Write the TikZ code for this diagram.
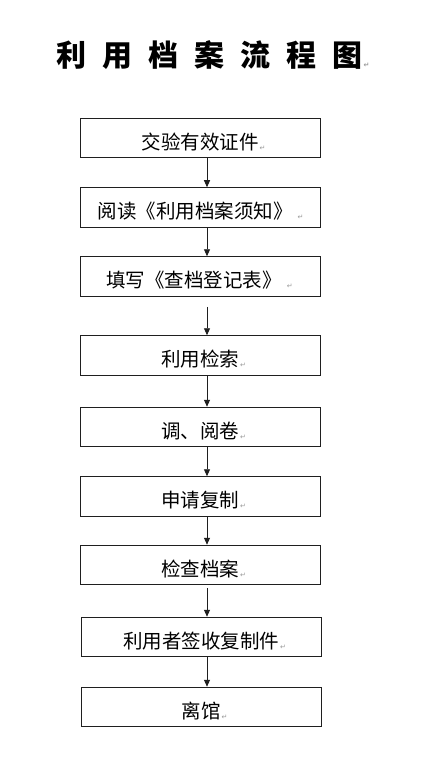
\documentclass[tikz,border=0pt]{standalone}
\usepackage{fontspec}
\setmainfont{Noto Sans CJK SC}
\newfontfamily\retfont{DejaVu Sans}
\usetikzlibrary{arrows.meta}
\definecolor{linec}{gray}{0.12}
\definecolor{retc}{gray}{0.6}
\newcommand{\retmark}{\rlap{\hspace{1pt}\raisebox{-1pt}{\retfont\fontsize{7pt}{7pt}\selectfont\color{retc}↵}}}
\tikzset{
  stepbox/.style={draw=linec, line width=1pt, minimum width=240pt, minimum height=39.5pt, inner sep=0pt},
  boxtext/.style={font=\fontsize{19.5pt}{20pt}\selectfont, text=black, inner sep=0pt},
  flow/.style={draw=linec, line width=0.9pt, -{Triangle[length=7pt,width=6pt]}},
}
\begin{document}
\begin{tikzpicture}[x=1pt,y=-1pt]
\useasboundingbox[fill=white] (0,0) rectangle (433,767);
\node[font=\fontsize{30pt}{30pt}\selectfont\bfseries, inner sep=0pt] (title) at (209.5,55)
  {利\hspace{16pt}用\hspace{16pt}档\hspace{16pt}案\hspace{16pt}流\hspace{16pt}程\hspace{16pt}图\retmark};
\coordinate (ax) at (207,0);
\node[stepbox] (b1) at (200,138) {};
\node[stepbox] (b2) at (200,207.5) {};
\node[stepbox] (b3) at (200,276.5) {};
\node[stepbox] (b4) at (200,355.5) {};
\node[stepbox] (b5) at (200,427) {};
\node[stepbox] (b6) at (200,496.5) {};
\node[stepbox] (b7) at (200,565) {};
\node[stepbox] (b8) at (201,637) {};
\node[stepbox] (b9) at (201,707) {};
\node[boxtext] (t1) at ([yshift=-4pt]b1.center) {交验有效证件\retmark};
\node[boxtext] (t2) at ([yshift=-4pt,xshift=-3pt]b2.center) {阅读《利用档案须知》\hspace{4pt}\retmark};
\node[boxtext] (t3) at ([yshift=-4pt,xshift=-4pt]b3.center) {填写《查档登记表》\hspace{4pt}\retmark};
\node[boxtext] (t4) at ([yshift=-4pt]b4.center) {利用检索\retmark};
\node[boxtext] (t5) at ([yshift=-4pt]b5.center) {调、阅卷\retmark};
\node[boxtext] (t6) at ([yshift=-4pt]b6.center) {申请复制\retmark};
\node[boxtext] (t7) at ([yshift=-4pt]b7.center) {检查档案\retmark};
\node[boxtext] (t8) at ([yshift=-4pt]b8.center) {利用者签收复制件\retmark};
\node[boxtext] (t9) at ([yshift=-4pt]b9.center) {离馆\retmark};
\draw[flow] (b1.south -| ax) -- (b2.north -| ax);
\draw[flow] (b2.south -| ax) -- (b3.north -| ax);
\draw[flow, shorten <=10pt] (b3.south -| ax) -- (b4.north -| ax);
\draw[flow] (b4.south -| ax) -- (b5.north -| ax);
\draw[flow] (b5.south -| ax) -- (b6.north -| ax);
\draw[flow] (b6.south -| ax) -- (b7.north -| ax);
\draw[flow, shorten <=3pt] (b7.south -| ax) -- (b8.north -| ax);
\draw[flow] (b8.south -| ax) -- (b9.north -| ax);
\end{tikzpicture}
\end{document}
